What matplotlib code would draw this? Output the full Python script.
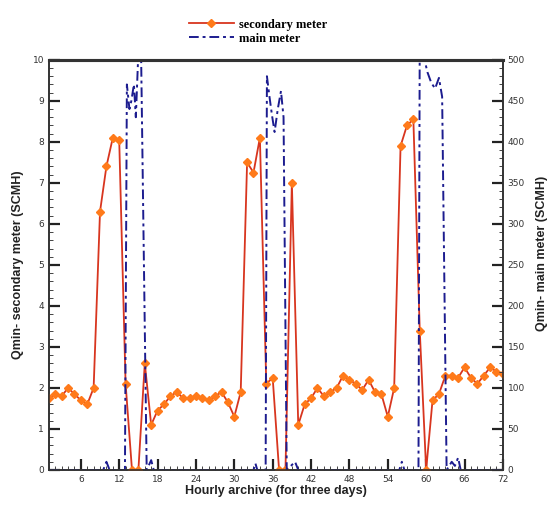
import matplotlib
matplotlib.use('Agg')
import matplotlib.pyplot as plt
from matplotlib.ticker import MultipleLocator

# ---- data -------------------------------------------------------------
hours = list(range(1, 73))
secondary_meter = [
    1.75, 1.85, 1.8, 2.0, 1.85, 1.7, 1.6, 2.0, 6.3, 7.4,
    8.1, 8.05, 2.1, 0.0, 0.0, 2.6, 1.1, 1.45, 1.6, 1.8,
    1.9, 1.75, 1.75, 1.8, 1.75, 1.7, 1.8, 1.9, 1.65, 1.3,
    1.9, 7.5, 7.25, 8.1, 2.1, 2.25, 0.0, 0.0, 7.0, 1.1,
    1.6, 1.75, 2.0, 1.8, 1.9, 2.0, 2.3, 2.2, 2.1, 1.95,
    2.2, 1.9, 1.85, 1.3, 2.0, 7.9, 8.4, 8.55, 3.4, 0.0,
    1.7, 1.85, 2.3, 2.3, 2.25, 2.5, 2.25, 2.1, 2.3, 2.5,
    2.4, 2.35,
]

main_hours = [1, 9.5, 10, 10.5, 12.9, 13.2, 13.6, 13.9, 14.3, 14.6, 15.0, 15.4, 16.3,
              17, 17.4, 33, 33.3, 33.6, 34.9, 35.1, 35.5, 35.9, 36.3, 36.8, 37.3, 37.7,
              38.2, 39.5, 40, 55.8, 56.2, 56.6, 58.8, 59.0, 59.6, 60.2, 60.8, 61.4, 62.0,
              62.5, 63.2, 64, 64.5, 65, 65.4, 72]
main_meter = [0, 0, 10, 0, 0, 470, 440, 450, 470, 430, 510, 520, 0,
              12, 0, 0, 8, 0, 0, 480, 455, 432, 412, 440, 462, 430,
              0, 10, 0, 0, 10, 0, 0, 530, 505, 485, 472, 465, 478,
              455, 0, 10, 5, 15, 0, 0]

x_ticks = [6, 12, 18, 24, 30, 36, 42, 48, 54, 60, 66, 72]

# ---- figure -----------------------------------------------------------
fig = plt.figure(figsize=(5.49, 5.07), dpi=100)
ax = fig.add_axes([0.089, 0.073, 0.827, 0.809])
ax2 = ax.twinx()

sec_line, = ax.plot(hours, secondary_meter, color='#d8351f', lw=1.3,
                    marker='D', ms=4, mfc='#ff7a1a', mec='#ff7a1a',
                    label='secondary meter', zorder=3)
main_line, = ax2.plot(main_hours, main_meter, color='#1c1c8f', lw=1.4,
                      ls='-.', dashes=(5, 2, 1.5, 2), label='main meter', zorder=2)

ax.set_xlim(1, 72)
ax.set_ylim(0, 10)
ax2.set_ylim(0, 500)

ax.set_xticks(x_ticks)
ax.xaxis.set_minor_locator(MultipleLocator(1))
ax.yaxis.set_major_locator(MultipleLocator(1))
ax.yaxis.set_minor_locator(MultipleLocator(0.2))
ax2.yaxis.set_major_locator(MultipleLocator(50))
ax2.yaxis.set_minor_locator(MultipleLocator(10))

tick_kw = dict(labelsize=6.5, labelcolor='#333333', color='#222222')
ax.tick_params(axis='both', which='major', direction='in', length=8, width=1.6, **tick_kw)
ax.tick_params(axis='both', which='minor', direction='in', length=3, width=0.7, color='#444444')
ax.tick_params(axis='y', right=False)
ax.tick_params(axis='x', top=False, which='both')
ax2.tick_params(axis='y', which='major', direction='in', length=8, width=1.6, **tick_kw)
ax2.tick_params(axis='y', which='minor', direction='in', length=3, width=0.7, color='#444444')

for a in (ax, ax2):
    for s in a.spines.values():
        s.set_linewidth(1.2)
        s.set_color('#333333')
    a.spines['top'].set_linewidth(2.2)

ax.set_xlabel('Hourly archive (for three days)', fontsize=9, fontweight='bold',
              family='Liberation Sans', color='#222222', labelpad=1)
ax.set_ylabel('Qmin- secondary meter (SCMH)', fontsize=9, fontweight='bold',
              family='Liberation Sans', color='#222222', labelpad=6)
fig.text(0.988, 0.5, 'Qmin- main meter (SCMH)', rotation=90, ha='center', va='center',
         fontsize=9, fontweight='bold', family='Liberation Sans', color='#222222')

fig.legend(handles=[sec_line, main_line], loc='upper center',
           bbox_to_anchor=(0.47, 0.985), frameon=False, handlelength=3.6,
           labelspacing=0.15, handletextpad=0.4,
           prop={'family': 'Liberation Serif', 'weight': 'bold', 'size': 9})

fig.savefig('out.png', dpi=100)
